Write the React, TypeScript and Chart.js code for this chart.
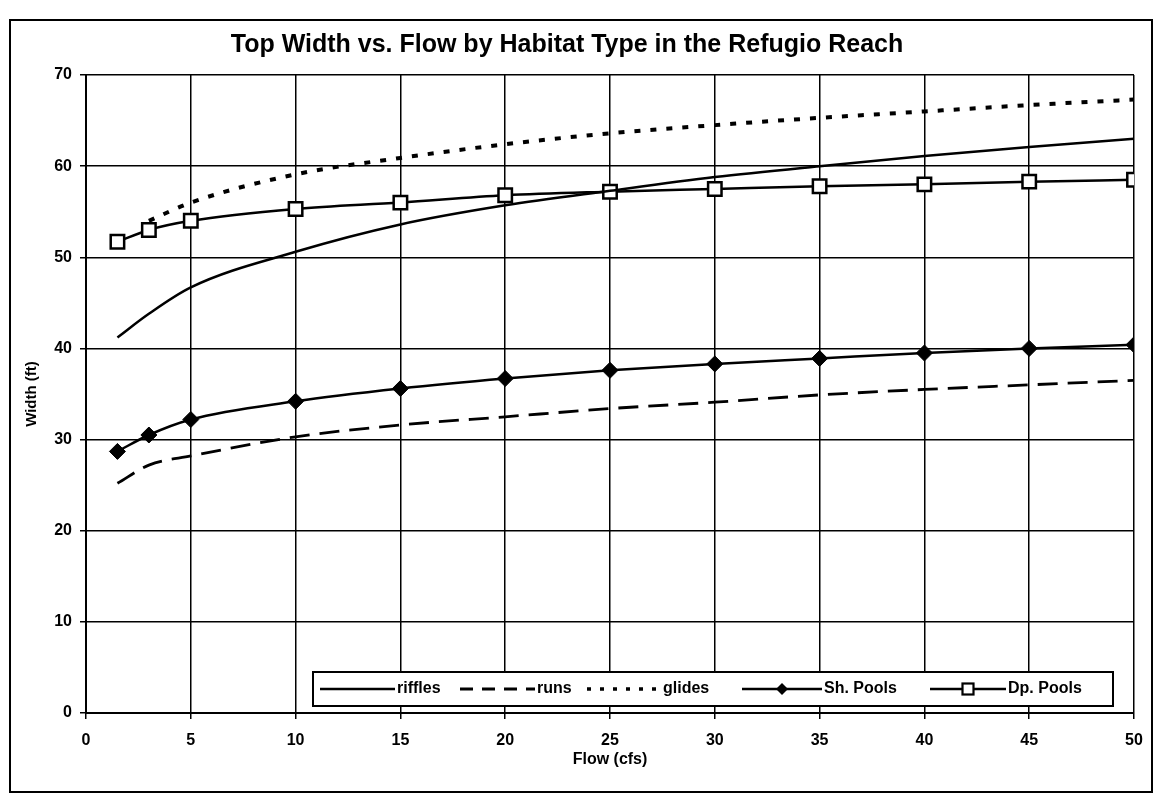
import React, { useEffect, useRef } from "react";
import { Chart, registerables } from "chart.js";

Chart.register(...registerables);

const FONT = "'Liberation Sans', Arial, Helvetica, sans-serif";

const TITLE = "Top Width vs. Flow by Habitat Type in the Refugio Reach";
const X_TITLE = "Flow (cfs)";
const Y_TITLE = "Width (ft)";

const FLOW = [1.5, 3, 5, 10, 15, 20, 25, 30, 35, 40, 45, 50];
const RIFFLES = [41.2, 43.8, 46.7, 50.6, 53.6, 55.7, 57.3, 58.8, 60.0, 61.1, 62.1, 63.0];
const RUNS = [25.2, 27.2, 28.2, 30.3, 31.6, 32.5, 33.4, 34.1, 34.9, 35.5, 36.0, 36.5];
const GLIDES = [null, 54.0, 56.0, 59.1, 60.9, 62.4, 63.6, 64.5, 65.3, 66.0, 66.7, 67.3];
const SH_POOLS = [28.7, 30.5, 32.2, 34.2, 35.6, 36.7, 37.6, 38.3, 38.9, 39.5, 40.0, 40.4];
const DP_POOLS = [51.7, 53.0, 54.0, 55.3, 56.0, 56.8, 57.2, 57.5, 57.8, 58.0, 58.3, 58.5];

const SERIES_LABELS = ["riffles", "runs", "glides", "Sh. Pools", "Dp. Pools"];

const X_MIN = 0;
const X_MAX = 50;
const X_STEP = 5;
const Y_MIN = 0;
const Y_MAX = 70;
const Y_STEP = 10;

function toPoints(values: (number | null)[]) {
  const pts: { x: number; y: number }[] = [];
  values.forEach((v, i) => {
    if (v !== null) pts.push({ x: FLOW[i], y: v });
  });
  return pts;
}

const framePlugin = {
  id: "frame",
  beforeDraw(chart: any) {
    const { ctx, width, height } = chart;
    ctx.save();
    ctx.fillStyle = "#ffffff";
    ctx.fillRect(0, 0, width, height);
    ctx.restore();
  },
  afterDraw(chart: any) {
    const { ctx } = chart;
    ctx.save();
    ctx.strokeStyle = "#000";
    ctx.lineWidth = 2;
    ctx.strokeRect(10, 20, 1142, 772);
    ctx.restore();
  },
};

// legend layout: sample start x and sample length for each entry
const LEGEND_SAMPLE_X = [320, 460, 587, 742, 930];
const LEGEND_SAMPLE_LEN = [75, 75, 74, 80, 76];

const boxLegendPlugin = {
  id: "boxLegend",
  afterDraw(chart: any) {
    const { ctx } = chart;
    const left = 313;
    const top = 672;
    const w = 800;
    const h = 34;
    ctx.save();
    ctx.fillStyle = "#fff";
    ctx.fillRect(left, top, w, h);
    ctx.strokeStyle = "#000";
    ctx.lineWidth = 2;
    ctx.strokeRect(left, top, w, h);
    const cy = top + h / 2;
    ctx.font = `bold 16px ${FONT}`;
    ctx.textBaseline = "middle";
    ctx.textAlign = "left";
    chart.data.datasets.forEach((ds: any, i: number) => {
      const x = LEGEND_SAMPLE_X[i];
      const sample = LEGEND_SAMPLE_LEN[i];
      ctx.save();
      ctx.strokeStyle = "#000";
      ctx.lineWidth = ds.legendLineWidth || 2.5;
      ctx.setLineDash(ds.legendDash || []);
      ctx.beginPath();
      ctx.moveTo(x, cy);
      ctx.lineTo(x + sample, cy);
      ctx.stroke();
      ctx.setLineDash([]);
      const mx = x + sample / 2;
      if (ds.pointStyle === "rectRot" && ds.pointRadius > 0) {
        const r = 6;
        ctx.fillStyle = "#000";
        ctx.beginPath();
        ctx.moveTo(mx, cy - r);
        ctx.lineTo(mx + r, cy);
        ctx.lineTo(mx, cy + r);
        ctx.lineTo(mx - r, cy);
        ctx.closePath();
        ctx.fill();
      } else if (ds.pointStyle === "rect" && ds.pointRadius > 0) {
        const s = 5.5;
        ctx.fillStyle = "#fff";
        ctx.lineWidth = 2.2;
        ctx.fillRect(mx - s, cy - s, 2 * s, 2 * s);
        ctx.strokeRect(mx - s, cy - s, 2 * s, 2 * s);
      }
      ctx.restore();
      ctx.fillStyle = "#000";
      ctx.fillText(ds.label, x + sample + 2, cy);
    });
    ctx.restore();
  },
};

export default function App() {
  const canvasRef = useRef<HTMLCanvasElement | null>(null);

  useEffect(() => {
    const canvas = canvasRef.current;
    if (!canvas) return;
    const chart = new Chart(canvas, {
      type: "line",
      data: {
        datasets: [
          {
            label: SERIES_LABELS[0],
            data: toPoints(RIFFLES),
            borderColor: "#000",
            borderWidth: 2.5,
            pointRadius: 0,
            cubicInterpolationMode: "monotone",
            legendLineWidth: 2.5,
          } as any,
          {
            label: SERIES_LABELS[1],
            data: toPoints(RUNS),
            borderColor: "#000",
            borderWidth: 2.8,
            borderDash: [20, 10],
            pointRadius: 0,
            cubicInterpolationMode: "monotone",
            legendDash: [13, 9],
            legendLineWidth: 2.8,
          } as any,
          {
            label: SERIES_LABELS[2],
            data: toPoints(GLIDES),
            borderColor: "#000",
            borderWidth: 4,
            borderDash: [6, 10],
            pointRadius: 0,
            cubicInterpolationMode: "monotone",
            legendDash: [4, 9],
            legendLineWidth: 3.5,
          } as any,
          {
            label: SERIES_LABELS[3],
            data: toPoints(SH_POOLS),
            borderColor: "#000",
            borderWidth: 2.5,
            pointStyle: "rectRot",
            pointRadius: 8,
            pointBackgroundColor: "#000",
            pointBorderColor: "#000",
            pointBorderWidth: 1,
            cubicInterpolationMode: "monotone",
          } as any,
          {
            label: SERIES_LABELS[4],
            data: toPoints(DP_POOLS),
            borderColor: "#000",
            borderWidth: 2.5,
            pointStyle: "rect",
            pointRadius: 9.5,
            pointBackgroundColor: "#fff",
            pointBorderColor: "#000",
            pointBorderWidth: 2.5,
            cubicInterpolationMode: "monotone",
          } as any,
        ],
      },
      options: {
        responsive: false,
        animation: false,
        layout: { padding: { left: 0, right: 25, top: 0, bottom: 0 } },
        plugins: {
          legend: { display: false },
          tooltip: { enabled: false },
          title: {
            display: true,
            text: TITLE,
            color: "#000",
            font: { family: FONT, size: 25, weight: "bold" },
            padding: { top: 30, bottom: 15 },
          },
        },
        scales: {
          x: {
            type: "linear",
            min: X_MIN,
            max: X_MAX,
            afterFit: (s: any) => {
              s.height = 91;
            },
            ticks: {
              stepSize: X_STEP,
              color: "#000",
              font: { family: FONT, size: 16, weight: "bold" },
              padding: 12,
              maxRotation: 0,
            },
            grid: { color: "#000", lineWidth: 1.5, tickLength: 6 },
            border: { color: "#000", width: 2 },
            title: {
              display: true,
              text: X_TITLE,
              color: "#000",
              font: { family: FONT, size: 16, weight: "bold" },
              padding: { top: 0, bottom: 35 },
            },
          },
          y: {
            type: "linear",
            min: Y_MIN,
            max: Y_MAX,
            afterFit: (s: any) => {
              s.width = 86;
            },
            ticks: {
              stepSize: Y_STEP,
              color: "#000",
              font: { family: FONT, size: 16, weight: "bold" },
              padding: 8,
            },
            grid: { color: "#000", lineWidth: 1.5, tickLength: 6 },
            border: { color: "#000", width: 2 },
            title: {
              display: true,
              text: Y_TITLE,
              color: "#000",
              font: { family: FONT, size: 15, weight: "bold" },
              padding: { top: 23, bottom: 0 },
            },
          },
        },
      } as any,
      plugins: [framePlugin, boxLegendPlugin],
    });
    return () => chart.destroy();
  }, []);

  return (
    <div style={{ position: "fixed", left: 0, top: 0, width: 1159, height: 804, background: "#fff" }}>
      <canvas ref={canvasRef} width={1159} height={804} />
    </div>
  );
}
